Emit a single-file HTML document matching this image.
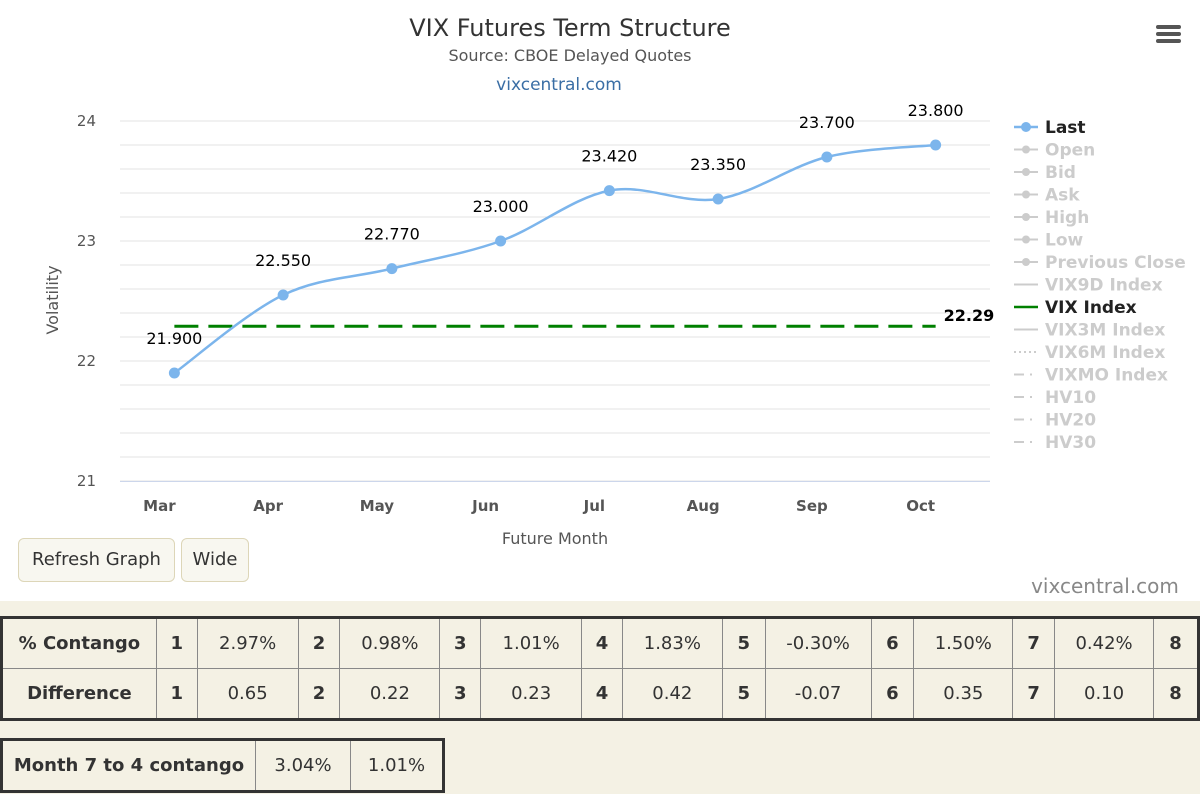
<!DOCTYPE html>
<html><head><meta charset="utf-8"><style>
body{margin:0;width:1200px;height:794px;overflow:hidden;background:#f4f1e4;font-family:"DejaVu Sans","Liberation Sans",sans-serif;}
#chart{position:absolute;left:0;top:0;width:1200px;height:601px;background:#fff;}
.btn{position:absolute;top:538px;height:42px;border:1px solid #ddd6b8;border-radius:6px;background:#f8f7f0;font-size:18px;color:#333;line-height:42px;text-align:center;}
table{position:absolute;border-collapse:collapse;border:3px solid #333;font-size:18px;color:#333;}
td{border:1px solid #888;text-align:center;padding:0;}
td.b{font-weight:bold;}
</style></head><body>
<div id="chart">
<svg width="1200" height="601" id="svg">
<text x="570" y="36" text-anchor="middle" font-size="24" fill="#333">VIX Futures Term Structure</text>
<text x="570" y="61" text-anchor="middle" font-size="16" fill="#555">Source: CBOE Delayed Quotes</text>
<text x="559" y="90" text-anchor="middle" font-size="17" fill="#3a6ea5">vixcentral.com</text>
<g><rect x="1156" y="25" width="25" height="4" rx="2" fill="#555"/><rect x="1156" y="32" width="25" height="4" rx="2" fill="#555"/><rect x="1156" y="39" width="25" height="4" rx="2" fill="#555"/></g>
<g id="grid"></g><g id="marks"></g>
<text transform="translate(58,300) rotate(-90)" text-anchor="middle" font-size="16" fill="#555">Volatility</text>
<text x="555" y="544" text-anchor="middle" font-size="16" fill="#555">Future Month</text>
<text x="1105" y="593" text-anchor="middle" font-size="20" fill="#888">vixcentral.com</text>
<g id="legend"></g>
</svg></div>
<div class="btn" style="left:18px;width:155px">Refresh Graph</div>
<div class="btn" style="left:181px;width:66px">Wide</div>
<table style="left:0;top:616px;width:1200px;height:105px">
<colgroup><col style="width:155px"><col style="width:41px"><col style="width:101px"><col style="width:42px"><col style="width:100px"><col style="width:41px"><col style="width:101px"><col style="width:41px"><col style="width:100px"><col style="width:43px"><col style="width:106px"><col style="width:43px"><col style="width:99px"><col style="width:42px"><col style="width:99px"><col style="width:45px"></colgroup>
<tr><td class="b">% Contango</td><td class="b">1</td><td>2.97%</td><td class="b">2</td><td>0.98%</td><td class="b">3</td><td>1.01%</td><td class="b">4</td><td>1.83%</td><td class="b">5</td><td>-0.30%</td><td class="b">6</td><td>1.50%</td><td class="b">7</td><td>0.42%</td><td class="b">8</td></tr>
<tr><td class="b">Difference</td><td class="b">1</td><td>0.65</td><td class="b">2</td><td>0.22</td><td class="b">3</td><td>0.23</td><td class="b">4</td><td>0.42</td><td class="b">5</td><td>-0.07</td><td class="b">6</td><td>0.35</td><td class="b">7</td><td>0.10</td><td class="b">8</td></tr>
</table>
<table style="left:0;top:738px;width:445px;height:55px">
<tr><td class="b" style="width:252px">Month 7 to 4 contango</td><td style="width:94px">3.04%</td><td>1.01%</td></tr>
</table>
<script>
const categories=["Mar","Apr","May","Jun","Jul","Aug","Sep","Oct"];
const lastValues=[21.9,22.55,22.77,23.0,23.42,23.35,23.7,23.8];
const vixIndex=22.29;
const yTicks=[21,22,23,24];
const legendNames=["Last","Open","Bid","Ask","High","Low","Previous Close","VIX9D Index","VIX Index","VIX3M Index","VIX6M Index","VIXMO Index","HV10","HV20","HV30"];
const NS="http://www.w3.org/2000/svg";
const L=120,R=990,T=121,B=481,yMin=21,yMax=24;
const bw=(R-L)/categories.length;
const X=i=>L+bw*(i+0.5);
const Y=v=>B-(v-yMin)/(yMax-yMin)*(B-T);
function mk(tag,at,parent){const e=document.createElementNS(NS,tag);for(const k in at)e.setAttribute(k,at[k]);parent.appendChild(e);return e;}
const grid=document.getElementById('grid'),marks=document.getElementById('marks'),leg=document.getElementById('legend');
for(let v=yMin;v<=yMax+1e-9;v+=0.2){const g=mk('line',{x1:L,x2:R,y1:Y(v),y2:Y(v),stroke:'#e3e3e3','stroke-width':1},grid);}
mk('line',{x1:L,x2:R,y1:B+0.5,y2:B+0.5,stroke:'#ccd6eb'},grid);
yTicks.forEach(t=>{const e=mk('text',{x:96,y:Y(t)+5,'text-anchor':'end','font-size':15,fill:'#555'},grid);e.textContent=t;});
categories.forEach((c,i)=>{const e=mk('text',{x:X(i)-15,y:511,'text-anchor':'middle','font-size':15,fill:'#555','font-weight':'bold'},grid);e.textContent=c;});
// VIX index line
const vl=mk('line',{x1:X(0),x2:X(categories.length-1),y1:Y(vixIndex),y2:Y(vixIndex),stroke:'#008000','stroke-width':3,'stroke-dasharray':'24,10'},marks);

const vt=mk('text',{x:X(categories.length-1)+8,y:Y(vixIndex)-5,'font-size':16,fill:'#000','font-weight':'bold'},marks);vt.textContent=vixIndex.toFixed(2);

// spline
const pts=lastValues.map((v,i)=>[X(i),Y(v)]);
let d='M'+pts[0].join(',');
for(let i=0;i<pts.length-1;i++){const p0=pts[Math.max(0,i-1)],p1=pts[i],p2=pts[i+1],p3=pts[Math.min(pts.length-1,i+2)];
const c1=[p1[0]+(p2[0]-p0[0])/6,p1[1]+(p2[1]-p0[1])/6],c2=[p2[0]-(p3[0]-p1[0])/6,p2[1]-(p3[1]-p1[1])/6];
d+=' C'+c1.join(',')+' '+c2.join(',')+' '+p2.join(',');}
const ln=mk('path',{d:d,fill:'none',stroke:'#7cb5ec','stroke-width':2.5},marks);

pts.forEach((p,i)=>{const c=mk('circle',{cx:p[0],cy:p[1],r:5.5,fill:'#7cb5ec'},marks);
const t=mk('text',{x:p[0],y:p[1]-29,'text-anchor':'middle','font-size':16,fill:'#000'},marks);t.textContent=lastValues[i].toFixed(3);});
// legend
legendNames.forEach((n,i)=>{const y=127+i*22.5;const on=n==="Last"||n==="VIX Index";const col=n==="Last"?'#7cb5ec':n==="VIX Index"?'#008000':'#ccc';
const g=mk('g',{},leg);
const dash=n==="VIX6M Index"?'2,3':(["VIXMO Index","HV10","HV20","HV30"].includes(n)?'10,6,2,6':'');
mk('line',{x1:1014,x2:1038,y1:y,y2:y,stroke:col,'stroke-width':(on?2.5:2),'stroke-dasharray':dash},g);
if(i<7)mk('circle',{cx:1026,cy:y,r:(i===0?5:4),fill:col},g);
const t=mk('text',{x:1045,y:y+6,'font-size':17,fill:on?'#222':'#ccc','font-weight':'bold'},g);t.textContent=n;});
</script>
</body></html>
